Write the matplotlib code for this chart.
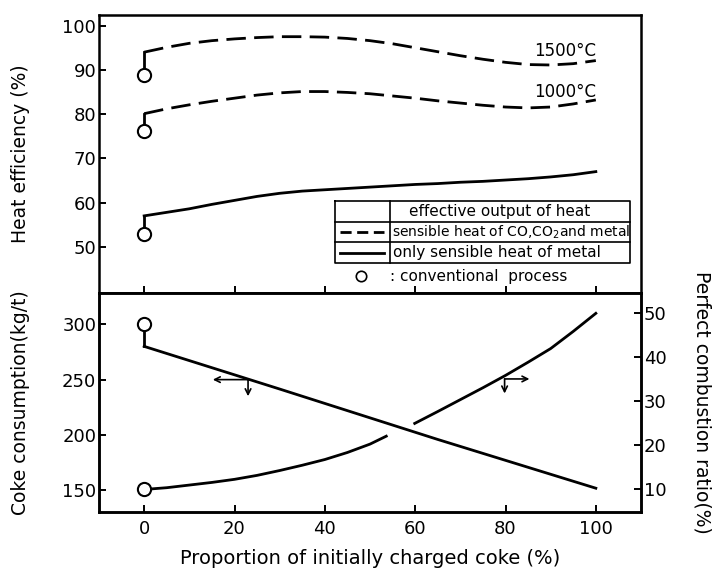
import matplotlib
matplotlib.use("Agg")
import matplotlib.pyplot as plt

# ---- data ----
# heat efficiency (%), upper panel
x_eff = [0, 5, 10, 15, 20, 25, 30, 35, 40, 45, 50, 55, 60, 65, 70, 75, 80, 85, 90, 95, 100]
eff_1500 = [94.0, 95.1, 96.0, 96.6, 97.0, 97.3, 97.5, 97.5, 97.4, 97.1, 96.6,
            95.9, 95.0, 94.1, 93.2, 92.4, 91.7, 91.2, 91.1, 91.4, 92.1]
eff_1000 = [80.1, 81.2, 82.1, 82.9, 83.6, 84.3, 84.8, 85.1, 85.1, 84.9, 84.6,
            84.1, 83.6, 83.0, 82.5, 82.0, 81.6, 81.4, 81.6, 82.3, 83.2]
eff_metal = [57.0, 57.8, 58.6, 59.6, 60.5, 61.4, 62.1, 62.6, 62.9, 63.2, 63.5,
             63.8, 64.1, 64.3, 64.6, 64.8, 65.1, 65.4, 65.8, 66.3, 67.0]
conv_eff = [88.8, 76.1, 53.0]      # conventional process at x=0

# coke consumption (kg/t), lower panel left axis
x_coke = [0, 30, 65, 100]
coke = [280, 241.5, 196, 152]
conv_coke = 300

# perfect combustion ratio (%), lower panel right axis (line broken at crossing)
x_comb_a = [0, 5, 10, 15, 20, 25, 30, 35, 40, 45, 50, 53.6]
comb_a = [10, 10.4, 11.0, 11.6, 12.3, 13.2, 14.3, 15.5, 16.8, 18.4, 20.3, 22.1]
x_comb_b = [59.9, 65, 70, 75, 80, 85, 90, 95, 100]
comb_b = [25.0, 27.7, 30.4, 33.1, 35.9, 38.9, 42.0, 45.9, 50.0]

xticks = [0, 20, 40, 60, 80, 100]

lw = 2.0
plt.rcParams['font.family'] = ['DejaVu Sans']
fig = plt.figure(figsize=(7.12, 5.72), dpi=100)
W, H = 712.0, 572.0
ax1 = fig.add_axes([99 / W, (H - 293.3) / H, 542 / W, 278.3 / H])
ax2 = fig.add_axes([99 / W, (H - 511.7) / H, 542 / W, 218.4 / H])
ax3 = ax2.twinx()

for a in (ax1, ax2, ax3):
    for s in a.spines.values():
        s.set_linewidth(1.8)
    a.tick_params(direction='in', length=5, width=1.4, labelsize=13, pad=2)

# ---- upper panel ----
ax1.plot(x_eff, eff_1500, 'k', lw=lw, dashes=(7, 3))
ax1.plot(x_eff, eff_1000, 'k', lw=lw, dashes=(7, 3))
ax1.plot(x_eff, eff_metal, 'k', lw=lw)
starts = [eff_1500[0], eff_1000[0], eff_metal[0]]
for c, s in zip(conv_eff, starts):
    ax1.plot([0, 0], [c, s], 'k', lw=lw)
ax1.plot([0] * 3, conv_eff, 'o', ms=9.5, mfc='white', mec='k', mew=1.5)
ax1.text(86.4, 94.2, '1500°C', fontsize=12, va='center')
ax1.text(86.4, 85.0, '1000°C', fontsize=12, va='center')

ax1.set_xlim(-10, 110)
ax1.set_ylim(39.5, 102.4)
ax1.set_yticks([50, 60, 70, 80, 90, 100])
ax1.set_xticks(xticks)
ax1.tick_params(axis='x', labelbottom=False)
ax1.set_ylabel('Heat efficiency (%)', fontsize=13.5)
ax1.yaxis.set_label_coords(-0.127, 0.5)

# legend table
tl, td, tr = 42.2, 54.4, 107.5
rows = [60.3, 55.6, 51.1, 46.3]
lk = dict(color='k', lw=1.2)
ax1.plot([tl, tr, tr, tl, tl], [rows[0], rows[0], rows[3], rows[3], rows[0]], **lk)
for r in rows[1:3]:
    ax1.plot([tl, tr], [r, r], **lk)
ax1.plot([td, td], [rows[0], rows[3]], **lk)
ax1.plot([tl + 1.2, td - 1.2], [(rows[1] + rows[2]) / 2] * 2, 'k', lw=lw, dashes=(4, 2))
ax1.plot([tl + 1.2, td - 1.2], [(rows[2] + rows[3]) / 2] * 2, 'k', lw=lw)
ax1.text(78.7, (rows[0] + rows[1]) / 2, 'effective output of heat',
         fontsize=11, ha='center', va='center')
ax1.text(td + 0.4, (rows[1] + rows[2]) / 2, 'sensible heat of CO,CO$_2$and metal',
         fontsize=10, ha='left', va='center')
ax1.text(td + 0.6, (rows[2] + rows[3]) / 2, 'only sensible heat of metal',
         fontsize=11, ha='left', va='center')
ax1.plot([48.1], [43.3], 'o', ms=7.5, mfc='white', mec='k', mew=1.2)
ax1.text(54.4, 43.3, ': conventional  process', fontsize=11, ha='left', va='center')

# ---- lower panel ----
ax2.plot(x_coke, coke, 'k', lw=lw)
ax2.plot([0, 0], [conv_coke, coke[0]], 'k', lw=lw)
ax2.plot([0], [conv_coke], 'o', ms=9.5, mfc='white', mec='k', mew=1.5, zorder=5)
ax3.plot(x_comb_a, comb_a, 'k', lw=lw)
ax3.plot(x_comb_b, comb_b, 'k', lw=lw)
ax3.plot([0], [comb_a[0]], 'o', ms=9.5, mfc='white', mec='k', mew=1.5, zorder=5)

ak = dict(arrowstyle='->', color='k', lw=1.2, shrinkA=0, shrinkB=0)
ax2.annotate('', xy=(15.2, 250), xytext=(23, 250), arrowprops=ak)
ax2.annotate('', xy=(23, 235), xytext=(23, 250), arrowprops=ak)
ax3.annotate('', xy=(85.3, 35.1), xytext=(79.8, 35.1), arrowprops=ak)
ax3.annotate('', xy=(79.8, 31.8), xytext=(79.8, 35.1), arrowprops=ak)

ax2.set_xlim(-10, 110)
ax2.set_ylim(130.8, 327.9)
ax2.set_yticks([150, 200, 250, 300])
ax2.set_xticks(xticks)
ax3.set_ylim(4.95, 54.55)
ax3.set_yticks([10, 20, 30, 40, 50])
ax2.tick_params(axis='x', pad=6)
ax2.set_ylabel('Coke consumption(kg/t)', fontsize=13.5)
ax2.yaxis.set_label_coords(-0.127, 0.5)
ax3.set_ylabel('Perfect combustion ratio(%)', fontsize=13.5, rotation=-90, va='bottom')
ax3.yaxis.set_label_coords(1.095, 0.5)
ax2.set_xlabel('Proportion of initially charged coke (%)', fontsize=14, labelpad=8)

fig.savefig('out.png', dpi=100)
